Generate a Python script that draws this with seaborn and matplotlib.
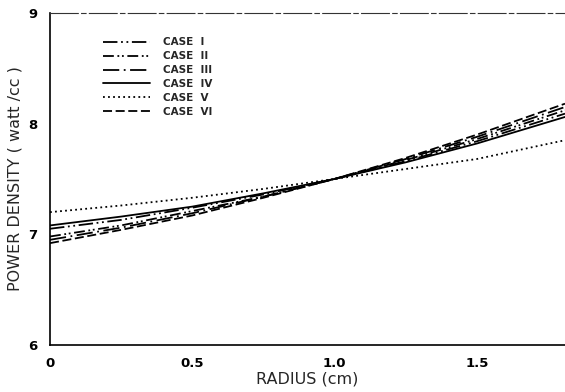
import numpy as np
import pandas as pd
import matplotlib
matplotlib.use("Agg")
import matplotlib.pyplot as plt
import seaborn as sns

# radius (cm) and power density (watt/cc)
radius = [0.0, 0.25, 0.5, 0.75, 1.0, 1.25, 1.5, 1.81]
case_1 = [7.05, 7.13, 7.24, 7.36, 7.50, 7.66, 7.84, 8.09]
case_2 = [6.98, 7.08, 7.21, 7.34, 7.50, 7.67, 7.86, 8.12]
case_3 = [6.95, 7.06, 7.19, 7.34, 7.50, 7.68, 7.88, 8.15]
case_4 = [7.08, 7.16, 7.25, 7.37, 7.50, 7.65, 7.82, 8.06]
case_5 = [7.20, 7.26, 7.33, 7.41, 7.50, 7.59, 7.68, 7.85]
case_6 = [6.92, 7.04, 7.17, 7.33, 7.50, 7.69, 7.90, 8.18]
labels = ["CASE  I", "CASE  II", "CASE  III", "CASE  IV", "CASE  V", "CASE  VI"]

dashes = {
    "CASE  I": (8, 2, 1, 2, 1, 2),
    "CASE  II": (6, 2, 1, 1.5, 1, 2),
    "CASE  III": (9, 2.5, 1, 2.5),
    "CASE  IV": "",
    "CASE  V": (1, 1.8),
    "CASE  VI": (5, 2),
}

df = pd.DataFrame({
    "radius": radius * 6,
    "power": case_1 + case_2 + case_3 + case_4 + case_5 + case_6,
    "case": [lab for lab in labels for _ in radius],
})

sns.set_style("white")
plt.rcParams["font.family"] = ["DejaVu Sans"]

fig = plt.figure(figsize=(5.65, 3.92), dpi=100)
ax = fig.add_axes([0.0885, 0.12, 0.9115, 0.847])

sns.lineplot(data=df, x="radius", y="power", style="case", dashes=dashes,
             color="black", linewidth=1.3, ax=ax)

ax.set_xlim(0, 1.81)
ax.set_ylim(6, 9)
ax.set_xticks([0, 0.5, 1.0, 1.5])
ax.set_xticklabels(["0", "0.5", "1.0", "1.5"], fontsize=9.5, fontweight="bold")
ax.set_yticks([6, 7, 8, 9])
ax.set_yticklabels(["6", "7", "8", "9"], fontsize=9.5, fontweight="bold")
ax.tick_params(direction="in", length=7, width=1, colors="black", pad=9)
ax.set_xlabel("RADIUS (cm)", fontsize=11.5, labelpad=1)
ax.set_ylabel("POWER DENSITY ( watt /cc )", fontsize=11.5, labelpad=4)

for side in ["left", "bottom"]:
    ax.spines[side].set_color("black")
    ax.spines[side].set_linewidth(1.2)
ax.spines["top"].set_color("#333333")
ax.spines["top"].set_linewidth(0.8)
ax.spines["top"].set_linestyle((0, (25, 3, 4, 3)))
ax.spines["right"].set_visible(False)

leg = ax.legend(loc="upper left", bbox_to_anchor=(0.085, 0.955), frameon=False,
                handlelength=4.5, handletextpad=1.2, labelspacing=0.38,
                prop={"size": 7.5, "weight": "bold"})
for line in leg.get_lines():
    line.set_linewidth(1.3)

fig.savefig("out.png", dpi=100)
